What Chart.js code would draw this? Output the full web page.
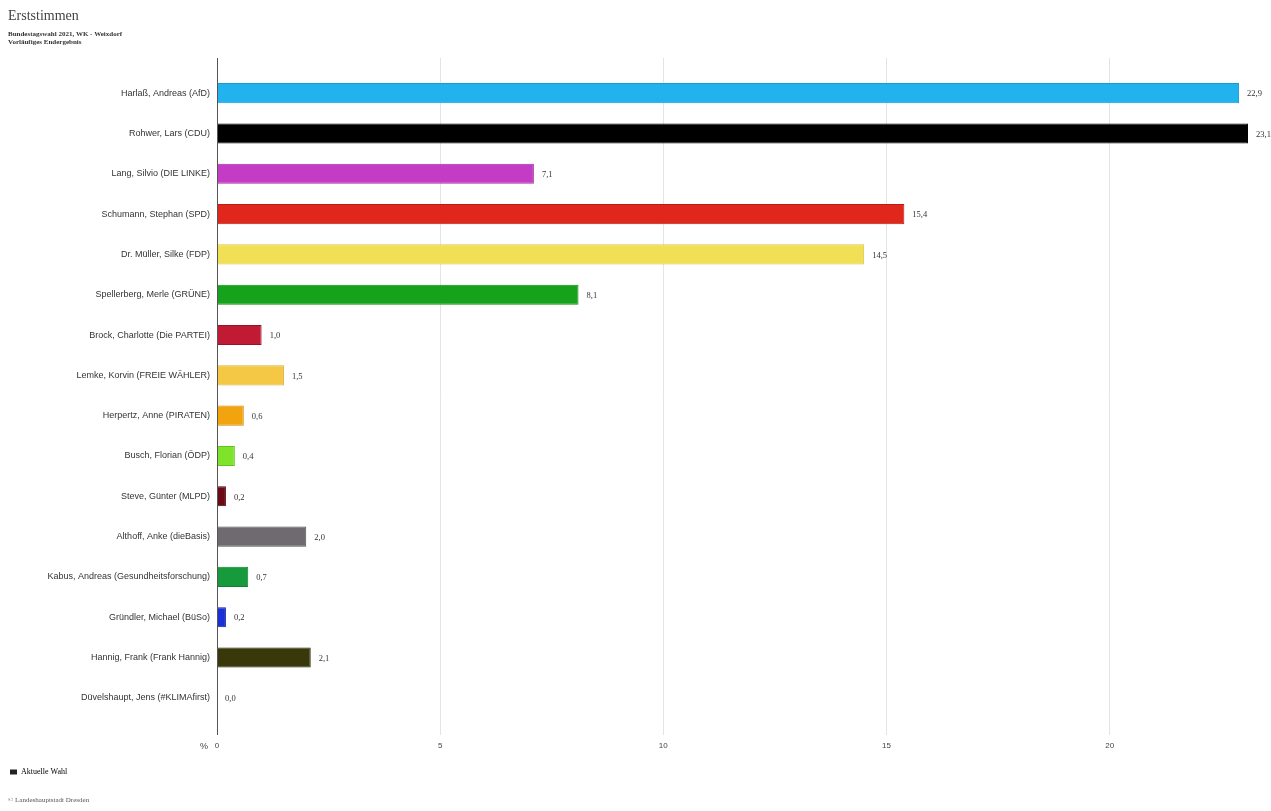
<!DOCTYPE html>
<html>
<head>
<meta charset="utf-8">
<script src="https://cdn.jsdelivr.net/npm/chart.js@4.4.1/dist/chart.umd.min.js"></script>
<style>
html,body{margin:0;padding:0;background:#fff;}
#wrap{position:relative;width:1271px;height:811px;}
</style>
</head>
<body>
<div id="wrap"><canvas id="c" width="1271" height="811"></canvas></div>
<script>
const titleText = "Erststimmen";
const subtitleLines = ["Bundestagswahl 2021, WK - Weixdorf", "Vorläufiges Endergebnis"];
const legendLabel = "Aktuelle Wahl";
const footerText = "© Landeshauptstadt Dresden";
const unitLabel = "%";

const categories = [
  "Harlaß, Andreas (AfD)",
  "Rohwer, Lars (CDU)",
  "Lang, Silvio (DIE LINKE)",
  "Schumann, Stephan (SPD)",
  "Dr. Müller, Silke (FDP)",
  "Spellerberg, Merle (GRÜNE)",
  "Brock, Charlotte (Die PARTEI)",
  "Lemke, Korvin (FREIE WÄHLER)",
  "Herpertz, Anne (PIRATEN)",
  "Busch, Florian (ÖDP)",
  "Steve, Günter (MLPD)",
  "Althoff, Anke (dieBasis)",
  "Kabus, Andreas (Gesundheitsforschung)",
  "Gründler, Michael (BüSo)",
  "Hannig, Frank (Frank Hannig)",
  "Düvelshaupt, Jens (#KLIMAfirst)"
];
const values = [22.9, 23.1, 7.1, 15.4, 14.5, 8.1, 1.0, 1.5, 0.6, 0.4, 0.2, 2.0, 0.7, 0.2, 2.1, 0.0];
const barColors = ["#22b2ee", "#000000", "#c43bc6", "#e1261c", "#f1e055", "#17a21c", "#c01a35", "#f4c845", "#f2a40f", "#7fe32c", "#6a0a14", "#6e6a6f", "#179a3c", "#1830d6", "#38380a", "#ffffff"];
const barBorders = ["#1a9ad0", "#000000", "#a02ea2", "#b81d15", "#d8c845", "#128a16", "#9a1228", "#dcb035", "#d08a08", "#66c020", "#4a050d", "#555155", "#128030", "#1020a8", "#222205", "#eeeeee"];
const xTickValues = [0, 5, 10, 15, 20];
const xMax = 23.1;

function fmt(v){ return v.toFixed(1).replace('.', ','); }

const extras = {
  id: 'extras',
  beforeDatasetsDraw(chart){
    const ctx = chart.ctx;
    const ca = chart.chartArea;
    const xs = chart.scales.x;
    ctx.save();
    ctx.strokeStyle = '#e4e4e4';
    ctx.lineWidth = 1;
    xTickValues.forEach(v => {
      if (v === 0) return;
      const px = Math.round(xs.getPixelForValue(v) - 0.5) + 0.5;
      ctx.beginPath();
      ctx.moveTo(px, ca.top - 15);
      ctx.lineTo(px, ca.top);
      ctx.stroke();
    });
    ctx.restore();
  },
  afterDraw(chart){
    const ctx = chart.ctx;
    const ca = chart.chartArea;
    const xs = chart.scales.x;
    ctx.save();
    // axis line extension
    ctx.strokeStyle = '#555';
    ctx.lineWidth = 1;
    const ax = Math.round(ca.left - 0.5) + 0.5;
    ctx.beginPath();
    ctx.moveTo(ax, ca.top - 15);
    ctx.lineTo(ax, ca.bottom + 17);
    ctx.stroke();
    // title
    ctx.fillStyle = '#444';
    ctx.textBaseline = 'middle';
    ctx.textAlign = 'left';
    ctx.font = '14px "Liberation Serif", "DejaVu Serif", serif';
    ctx.fillText(titleText, 8, 16);
    ctx.fillStyle = '#333';
    ctx.font = 'bold 7px "Liberation Serif", "DejaVu Serif", serif';
    subtitleLines.forEach((s, i) => ctx.fillText(s, 8, 34 + i * 8));
    // unit label
    ctx.font = '9px "Liberation Sans", Arial, sans-serif';
    ctx.fillStyle = '#444';
    ctx.textAlign = 'right';
    ctx.fillText(unitLabel, xs.getPixelForValue(0) - 9, ca.bottom + 29);
    // value labels
    ctx.textAlign = 'left';
    ctx.fillStyle = '#333';
    ctx.font = '8.5px "Liberation Serif", "DejaVu Serif", serif';
    const meta = chart.getDatasetMeta(0);
    meta.data.forEach((bar, i) => {
      ctx.fillText(fmt(values[i]), bar.x + 8, bar.y + 1);
    });
    // footer
    ctx.fillStyle = '#555';
    ctx.font = '7px "Liberation Serif", "DejaVu Serif", serif';
    ctx.fillText(footerText, 8, 800);
    ctx.restore();
  }
};

new Chart(document.getElementById('c'), {
  type: 'bar',
  data: {
    labels: categories,
    datasets: [{
      label: legendLabel,
      data: values,
      backgroundColor: barColors,
      borderColor: barBorders,
      borderWidth: 1,
      barPercentage: 0.5,
      categoryPercentage: 1.0
    }]
  },
  options: {
    indexAxis: 'y',
    responsive: false,
    animation: false,
    devicePixelRatio: 1,
    layout: { padding: { top: 73, right: 23, bottom: 25, left: 0 } },
    plugins: {
      tooltip: { enabled: false },
      title: { display: false },
      legend: {
        display: true,
        position: 'bottom',
        align: 'start',
        labels: {
          boxWidth: 7,
          boxHeight: 5,
          padding: 10,
          color: '#444',
          font: { family: '"Liberation Serif", "DejaVu Serif", serif', size: 8 },
          generateLabels(chart){
            return [{ text: legendLabel, fillStyle: '#222', strokeStyle: '#222', lineWidth: 0, hidden: false, datasetIndex: 0 }];
          }
        }
      }
    },
    scales: {
      x: {
        type: 'linear',
        min: 0,
        max: xMax,
        afterFit(scale){ scale.height = 40; },
        afterBuildTicks(scale){ scale.ticks = xTickValues.map(v => ({ value: v })); },
        border: { display: false },
        grid: { color: '#e4e4e4', lineWidth: 1, drawTicks: true, tickLength: 17, tickColor: '#e4e4e4' },
        ticks: {
          includeBounds: false,
          color: '#444',
          padding: 6,
          font: { family: '"Liberation Sans", Arial, sans-serif', size: 8 },
          callback: v => String(v)
        }
      },
      y: {
        afterFit(scale){ scale.width = 217; },
        border: { display: true, color: '#555', width: 1 },
        grid: { display: false, drawTicks: false },
        ticks: {
          color: '#333',
          padding: 7,
          font: { family: '"Liberation Sans", Arial, sans-serif', size: 9 }
        }
      }
    }
  },
  plugins: [extras]
});
</script>
</body>
</html>
